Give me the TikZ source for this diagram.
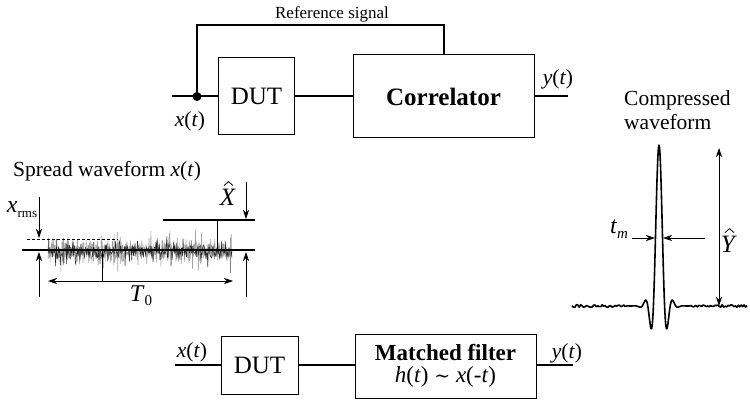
\documentclass[tikz,border=0pt]{standalone}
\usepackage{fontspec}
\setmainfont{Liberation Serif}
\newfontfamily\symfont{DejaVu Serif}
\usetikzlibrary{arrows.meta}
\begin{document}
\begin{tikzpicture}[x=1pt,y=-1pt,
  blk/.style={draw, line width=1pt, inner sep=0pt, anchor=center},
  sig/.style={line width=2pt},
  lbl/.style={font=\fontsize{21.5}{24}\selectfont, inner sep=0pt},
  dimarrow/.style={line width=0.7pt, -{Stealth[length=9pt,width=6pt]}},
  dimboth/.style={line width=0.7pt, {Stealth[length=9pt,width=6pt]}-{Stealth[length=9pt,width=6pt]}},
  refline/.style={line width=1.3pt},
  hatmark/.style={line width=0.8pt, line join=miter}]
\useasboundingbox (0,0) rectangle (750,417);

% ---------- top: correlator ----------
\node[blk, minimum width=76pt, minimum height=77pt, font=\fontsize{25}{28}\selectfont] (dut1) at (256.5,96.5) {DUT};
\node[blk, minimum width=181pt, minimum height=83pt, font=\bfseries\fontsize{25}{28}\selectfont] (cor) at (443.5,96.5) {Correlator\hspace{12pt}};
\coordinate (in1) at (172,96.5);
\coordinate (split) at (197,96.5);
\coordinate (out1) at (568,96.5);
\coordinate (loopL) at (197,25);
\coordinate (loopR) at (443.5,25);
\draw[sig] (in1) -- (dut1.west);
\draw[sig] (dut1.east) -- (cor.west);
\draw[sig] (cor.east) -- (out1);
\draw[sig] (split) -- (loopL) -- (loopR) -- (cor.north);
\fill (split) circle (4.5);
\node[font=\fontsize{17}{20}\selectfont, inner sep=0pt] (reftxt) at (332,14) {Reference signal};
\node[lbl] (xt1) at (190,121) {\textit{x}(\textit{t})};
\node[lbl] (yt1) at (558,79) {\textit{y}(\textit{t})};

% ---------- bottom: matched filter ----------
\node[blk, minimum width=77pt, minimum height=58pt, font=\fontsize{25}{28}\selectfont] (dut2) at (259.5,365) {DUT};
\node[blk, minimum width=181pt, minimum height=64pt, align=center, font=\fontsize{23}{23}\selectfont] (mf) at (445.5,366)
  {\textbf{Matched filter}\\[-1pt] \textit{h}(\textit{t}) {\symfont\fontsize{19}{19}\selectfont ∼} \textit{x}(-\textit{t})};
\coordinate (in2) at (175,365);
\coordinate (out2) at (573,365);
\draw[sig] (in2) -- (dut2.west);
\draw[sig] (dut2.east) -- (mf.west |- dut2.east);
\draw[sig] (mf.east |- out2) -- (out2);
\node[lbl] (xt2) at (192,352) {\textit{x}(\textit{t})};
\node[lbl] (yt2) at (567,353) {\textit{y}(\textit{t})};

% ---------- spread waveform ----------
\node[lbl] (swtitle) at (107,171) {Spread waveform \textit{x}(\textit{t})};
\coordinate (cL) at (22,250);
\coordinate (cR) at (255,250);
\coordinate (rmsL) at (27,239);
\coordinate (rmsR) at (118,239);
\coordinate (pkL) at (163,220);
\coordinate (pkR) at (255,220);
\pgfmathsetseed{11}
\draw[gray!75, line width=0.55pt] plot[domain=48:232, samples=700] (\x, {251 + 26*rand*rand*rand + 7*rand});
\draw[black!85, line width=0.5pt] plot[domain=48.2:232, samples=320] (\x, {251 + 22*rand*rand*rand + 5*rand});
\coordinate (spk1) at (217,249);
\coordinate (spk1t) at (217,220);
\draw[line width=0.6pt] (spk1) -- (spk1t);
\coordinate (dip1) at (230,250);
\coordinate (dip1b) at (230,273);
\draw[gray, line width=0.6pt] (dip1) -- (dip1b);
\coordinate (dip2) at (102,250);
\coordinate (dip2b) at (102,281);
\draw[line width=0.8pt] (dip2) -- (dip2b);
\draw[refline] (cL) -- (cR);
\draw[line width=0.7pt, densely dashed] (rmsL) -- (rmsR);
\draw[refline] (pkL) -- (pkR);
% dimension arrows
\coordinate (a1s) at (39,197);
\coordinate (a1e) at (39,238);
\coordinate (a2s) at (39,297);
\coordinate (a2e) at (39,252);
\coordinate (a3s) at (246,182);
\coordinate (a3e) at (246,219);
\coordinate (a4s) at (246,297);
\coordinate (a4e) at (246,252);
\draw[dimarrow] (a1s) -- (a1e);
\draw[dimarrow] (a2s) -- (a2e);
\draw[dimarrow] (a3s) -- (a3e);
\draw[dimarrow] (a4s) -- (a4e);
\coordinate (t0L) at (48,281);
\coordinate (t0R) at (233,281);
\draw[dimboth] (t0L) -- (t0R);
\node[inner sep=0pt, font=\fontsize{24}{26}\selectfont] (t0) at (141,296) {\textit{T}\raisebox{-0.35ex}{\fontsize{15}{15}\selectfont 0}};
\node[inner sep=0pt, font=\fontsize{24}{26}\selectfont] (xrms) at (22,210) {\textit{x}\raisebox{-0.45ex}{\fontsize{13}{13}\selectfont rms}};
\node[inner sep=0pt, font=\fontsize{25}{26}\selectfont] (xhat) at (228,197) {\textit{X}};
\draw[hatmark] ([shift={(-4,-3)}]xhat.north) -- ([shift={(0.5,-7)}]xhat.north) -- ([shift={(5,-3)}]xhat.north);

% ---------- compressed waveform ----------
\node[lbl, align=left, anchor=north west, font=\fontsize{21.5}{24}\selectfont] (cwtitle) at (624,90) {Compressed\\waveform};
\draw[line width=1.6pt, line join=round]
  plot[domain=572:628, samples=40, smooth] (\x, {306 + 1.3*rand})
  -- plot[domain=-30.05:29.95, samples=201] ({659+\x}, {306 - 161*sin(180*\x/5.6)/(pi*\x/5.6)*exp(-\x*\x/144)})
  -- plot[domain=690:747, samples=40, smooth] (\x, {306 + 1.3*rand});
\coordinate (tmLs) at (632,238);
\coordinate (tmLe) at (655,238);
\coordinate (tmRs) at (705,238);
\coordinate (tmRe) at (663,238);
\draw[dimarrow] (tmLs) -- (tmLe);
\draw[dimarrow] (tmRs) -- (tmRe);
\node[inner sep=0pt, font=\fontsize{24}{26}\selectfont] (tm) at (619,229) {\textit{t}\raisebox{-0.5ex}{\fontsize{15}{15}\selectfont\textit{m}}};
\coordinate (yhT) at (719,148);
\coordinate (yhB) at (719,306);
\draw[dimboth] (yhT) -- (yhB);
\node[inner sep=0pt, font=\fontsize{25}{26}\selectfont] (yhat) at (729,244) {\textit{Y}};
\draw[hatmark] ([shift={(-4,-3)}]yhat.north) -- ([shift={(0.5,-7)}]yhat.north) -- ([shift={(5,-3)}]yhat.north);
\end{tikzpicture}
\end{document}
